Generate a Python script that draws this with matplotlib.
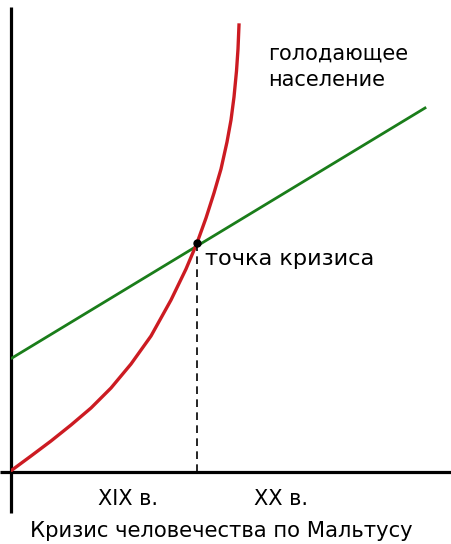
import matplotlib
matplotlib.use("Agg")
import matplotlib.pyplot as plt

# Data (arbitrary units)
pop_x = [1, 20, 40, 60, 80, 100, 120, 140, 160, 175, 186, 195, 203, 210, 216, 220, 223, 225.5, 227, 228]
pop_y = [2, 16, 31, 47, 64, 84, 108, 136, 172, 203, 229, 254, 279, 303, 330, 352, 375, 401, 423, 447]
food_x = [1, 414]
food_y = [114, 364]
crisis_x = 186
crisis_y = 229

labels_centuries = ["XIX в.", "XX в."]
label_top = ["голодающее", "население"]
label_crisis = "точка кризиса"
caption = "Кризис человечества по Мальтусу"

W, H = 452, 544
fig = plt.figure(figsize=(W / 100, H / 100), dpi=100)
ax = fig.add_axes([11 / W, 72 / H, 441 / W, 465 / H])
ax.set_xlim(0, 441)
ax.set_ylim(0, 465)
for s in ax.spines.values():
    s.set_visible(False)
ax.set_xticks([])
ax.set_yticks([])

# axes lines (extend beyond origin)
ax.plot([0, 0], [-41, 465], color="black", lw=2.3, clip_on=False, solid_capstyle="butt")
ax.plot([-11, 441], [0, 0], color="black", lw=2.3, clip_on=False, solid_capstyle="butt")

ax.plot(food_x, food_y, color="#1a7d1a", lw=2.0)
ax.plot(pop_x, pop_y, color="#cc1b22", lw=2.4, solid_joinstyle="round")
ax.plot([crisis_x, crisis_x], [0, crisis_y], color="black", lw=1.2, ls=(0, (4.6, 3.2)))
ax.plot([crisis_x], [crisis_y], "o", color="black", ms=5)

ax.text(257, 472 - 60, label_top[0], fontsize=15, ha="left", va="baseline")
ax.text(257, 472 - 86, label_top[1], fontsize=15, ha="left", va="baseline")
ax.text(194, 472 - 265, label_crisis, fontsize=16.2, ha="left", va="baseline")
ax.text(117.5, 472 - 505, labels_centuries[0], fontsize=15, ha="center", va="baseline")
ax.text(270.5, 472 - 505, labels_centuries[1], fontsize=15, ha="center", va="baseline")
fig.text(221.5 / W, 1 - 537 / H, caption, fontsize=15.2, ha="center", va="baseline")

fig.savefig("out.png", dpi=100, facecolor="white")
